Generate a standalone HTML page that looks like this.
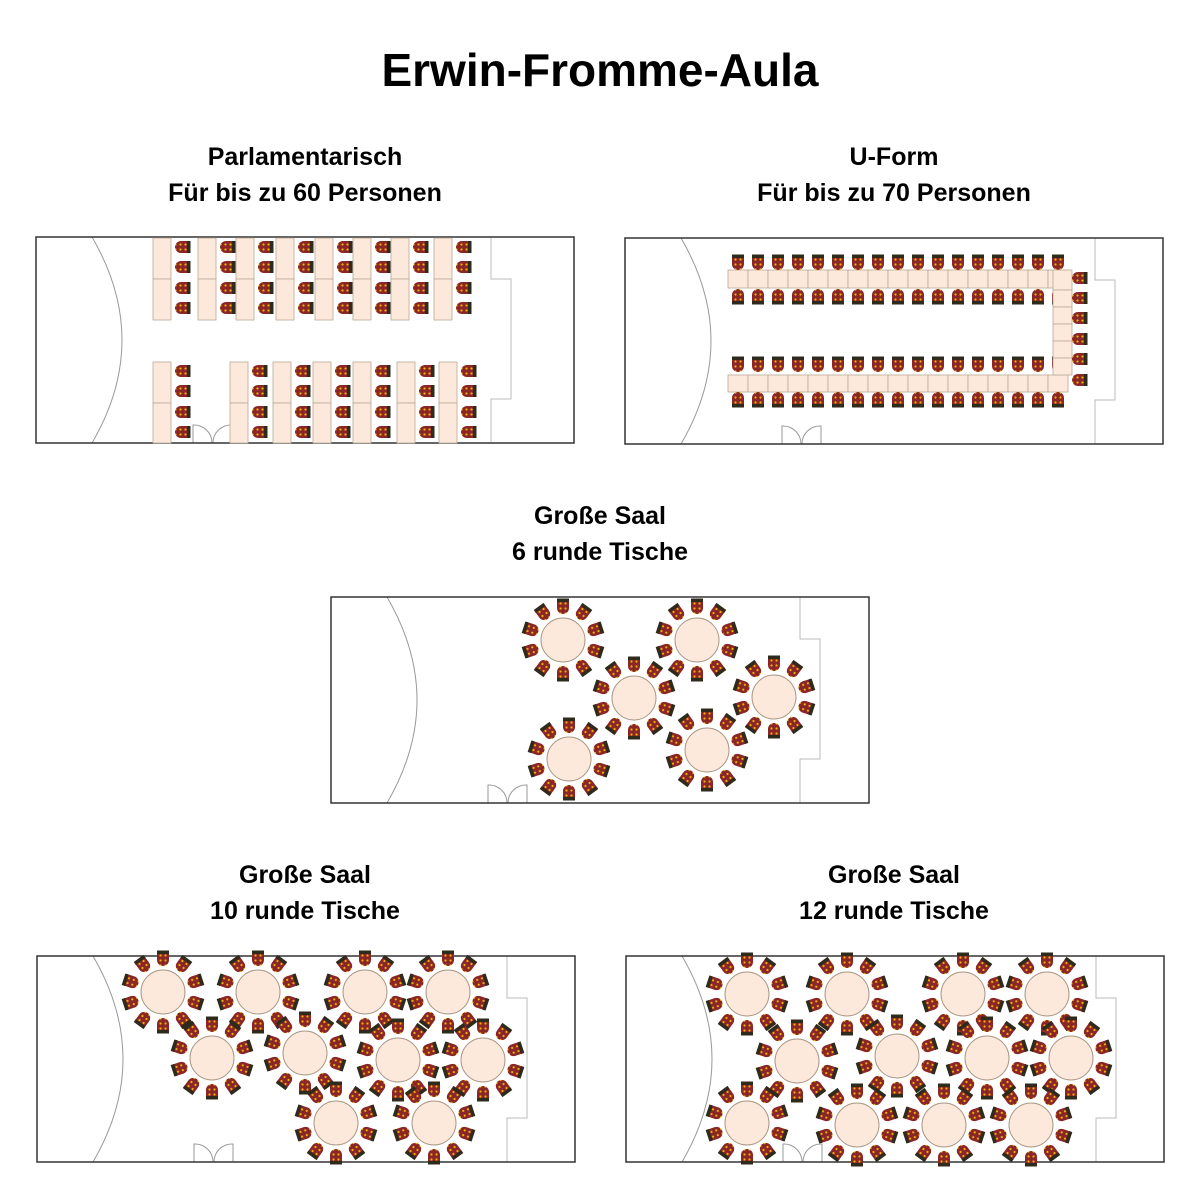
<!DOCTYPE html>
<html><head><meta charset="utf-8"><style>
body{margin:0;background:#fff;width:1200px;height:1200px;overflow:hidden}
svg{position:absolute;left:0;top:0}
text{font-family:"Liberation Sans",sans-serif;font-weight:bold;fill:#000;text-anchor:middle}
</style></head><body>
<svg id="s" width="1200" height="1200" viewBox="0 0 1200 1200">
<defs>
<pattern id="dots" width="5" height="5" patternUnits="userSpaceOnUse"><rect width="5" height="5" fill="#8b2626"/><circle cx="2.5" cy="2.5" r="1.1" fill="#f0b400"/></pattern>
</defs>
<text x="600" y="86" font-size="46">Erwin-Fromme-Aula</text>
<text x="305" y="165" font-size="25">Parlamentarisch</text>
<text x="305" y="201" font-size="25">Für bis zu 60 Personen</text>
<text x="894" y="165" font-size="25">U-Form</text>
<text x="894" y="201" font-size="25">Für bis zu 70 Personen</text>
<text x="600" y="524" font-size="25">Große Saal</text>
<text x="600" y="560" font-size="25">6 runde Tische</text>
<text x="305" y="883" font-size="25">Große Saal</text>
<text x="305" y="919" font-size="25">10 runde Tische</text>
<text x="894" y="883" font-size="25">Große Saal</text>
<text x="894" y="919" font-size="25">12 runde Tische</text>
<g id="g"></g>
</svg>
<script>
var g=document.getElementById('g'),h='';
function room(x,y,st){var w=538,H=206;
h+='<path d="M'+(x+56)+' '+y+' Q'+(x+116)+' '+(y+H/2)+' '+(x+56)+' '+(y+H)+'" fill="none" stroke="#999" stroke-width="1"/>';
h+='<path d="M'+(x+st)+' '+y+' V'+(y+42)+' H'+(x+st+20)+' V'+(y+162)+' H'+(x+st)+' V'+(y+H)+'" fill="none" stroke="#bbb" stroke-width="1"/>';
var d=x+157;h+='<path d="M'+d+' '+(y+H)+' V'+(y+H-18)+' A18 18 0 0 1 '+(d+19)+' '+(y+H)+' M'+(d+39)+' '+(y+H)+' V'+(y+H-18)+' A18 18 0 0 0 '+(d+20)+' '+(y+H)+'" fill="none" stroke="#999"/>';
h+='<rect x="'+x+'" y="'+y+'" width="'+w+'" height="'+H+'" fill="none" stroke="#333" stroke-width="1.5"/>';}
function chair(cx,cy,ang){h+='<g transform="translate('+cx+' '+cy+') rotate('+ang+')"><path d="M-6 7 V-2 A6 6 0 0 1 6 -2 V7 Z" fill="url(#dots)"/><rect x="-6" y="4" width="12" height="3.5" fill="#2e2a1c"/></g>';}
function tbl(x,y,w,hh){h+='<rect x="'+x+'" y="'+y+'" width="'+w+'" height="'+hh+'" fill="#fde9db" stroke="#b8a898" stroke-width="0.8"/>';}
function round(cx,cy){h+='<circle cx="'+cx+'" cy="'+cy+'" r="22" fill="#fde9db" stroke="#a89888"/>';
for(var i=0;i<10;i++){var a=i*36*Math.PI/180;chair(cx+34*Math.sin(a),cy-34*Math.cos(a),i*36+180);}}
room(36,237,455);
[153,198,236,276,315,353,391,434].forEach(function(x){tbl(x,238,18,41);tbl(x,279,18,41);[247,267,288,308].forEach(function(y){chair(x+30,y,-90)});});
[153,230,273,313,353,397,439].forEach(function(x){tbl(x,362,18,41);tbl(x,403,18,40);[371,391,412,432].forEach(function(y){chair(x+30,y,-90)});});
room(625,238,470);
for(var i=0;i<17;i++){var x=728+i*20;tbl(x,270,20,18);tbl(x,375,20,17);chair(x+10,262,180);chair(x+10,297,0);chair(x+10,364,180);chair(x+10,400,0);}
tbl(1053,270,19,20);for(var j=0;j<5;j++)tbl(1053,290+j*17,19,17);
[278,298,318,339,359,380].forEach(function(y){chair(1080,y,-90)});
room(331,597,469);
[[563,640],[697,640],[634,698],[774,697],[569,759],[707,750]].forEach(function(p){round(p[0],p[1])});
room(37,956,470);
[[163,992],[258,992],[365,992],[448,992],[212,1058],[305,1053],[398,1060],[483,1060],[336,1123],[434,1123]].forEach(function(p){round(p[0],p[1])});
room(626,956,470);
[[747,994],[847,994],[963,994],[1047,994],[797,1061],[897,1056],[987,1058],[1071,1058],[747,1123],[857,1125],[944,1125],[1031,1125]].forEach(function(p){round(p[0],p[1])});
g.innerHTML=h;
</script>
</body></html>
